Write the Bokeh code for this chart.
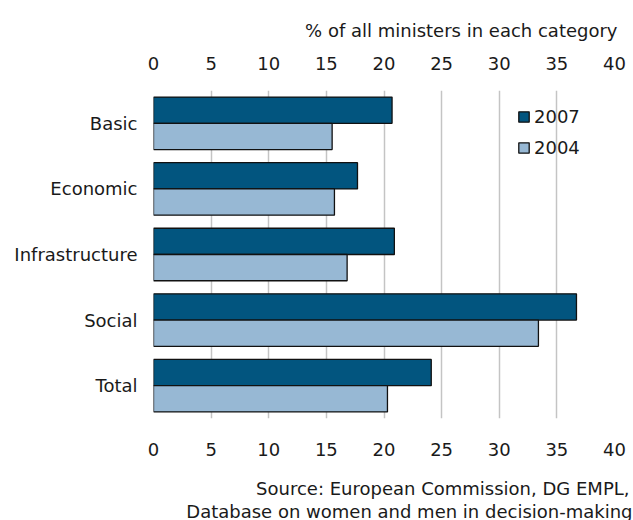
from bokeh.plotting import figure
from bokeh.models import (Range1d, FixedTicker, Legend, LegendItem, ColumnDataSource,
                          LinearAxis, Title)
from bokeh.embed import file_html
from bokeh.resources import INLINE

categories = ["Basic", "Economic", "Infrastructure", "Social", "Total"]
values_2007 = [20.7, 17.7, 20.9, 36.7, 24.1]
values_2004 = [15.5, 15.7, 16.8, 33.4, 20.3]
x_ticks = [0, 5, 10, 15, 20, 25, 30, 35, 40]
axis_title = "% of all ministers in each category"
source_lines = ["Source: European Commission, DG EMPL,",
                "Database on women and men in decision-making"]

FONT = "DejaVu Sans"
FS = "18px"
TXT = "#1a1a1a"
DARK = "#02557f"
LIGHT = "#97b8d4"

p = figure(width=633, height=520, output_backend="svg", toolbar_location=None,
           x_range=Range1d(0, 40), y_range=Range1d(5, 0),
           x_axis_location="below",
           min_border_left=153, min_border_right=19,
           min_border_top=90, min_border_bottom=102)
p.outline_line_color = None
p.background_fill_color = "white"
p.border_fill_color = "white"

centers = [i + 0.5 for i in range(len(categories))]
src07 = ColumnDataSource(dict(y=[c - 0.2 for c in centers], right=values_2007))
src04 = ColumnDataSource(dict(y=[c + 0.2 for c in centers], right=values_2004))
r07 = p.hbar(y="y", left=0, right="right", height=0.4, source=src07,
             fill_color=DARK, line_color="#111111", line_width=1.3)
r04 = p.hbar(y="y", left=0, right="right", height=0.4, source=src04,
             fill_color=LIGHT, line_color="#111111", line_width=1.3)

top = LinearAxis()
p.add_layout(top, "above")
p.add_layout(Title(text=axis_title, align="right", text_font=FONT, text_font_size=FS,
                   text_font_style="normal", text_color=TXT, standoff=26, offset=-3),
             "above")
for ax in p.xaxis:
    ax.ticker = FixedTicker(ticks=x_ticks)
    ax.axis_line_color = None
    ax.major_tick_line_color = None
    ax.minor_tick_line_color = None
    ax.major_label_text_font = FONT
    ax.major_label_text_font_size = FS
    ax.major_label_text_color = TXT
    ax.major_label_standoff = 18
top.major_label_standoff = 15

p.add_layout(Title(text=source_lines[0], align="right", text_font=FONT, text_font_size=FS,
                   text_font_style="normal", text_color=TXT,
                   standoff=34, offset=-15), "below")
p.add_layout(Title(text=source_lines[1], align="right", text_font=FONT, text_font_size=FS,
                   text_font_style="normal", text_color=TXT, vertical_align="top",
                   standoff=-30, offset=-18), "below")

p.yaxis.ticker = FixedTicker(ticks=centers)
p.yaxis.major_label_overrides = {c: cat for c, cat in zip(centers, categories)}
p.yaxis.axis_line_color = None
p.yaxis.major_tick_line_color = None
p.yaxis.minor_tick_line_color = None
p.yaxis.major_label_text_font = FONT
p.yaxis.major_label_text_font_size = FS
p.yaxis.major_label_text_color = TXT
p.yaxis.major_label_standoff = 10

p.ygrid.grid_line_color = None
p.xgrid.ticker = FixedTicker(ticks=x_ticks)
p.xgrid.grid_line_color = "#c4c4c4"
p.xgrid.grid_line_width = 1.5

legend = Legend(items=[LegendItem(label="2007", renderers=[r07]),
                       LegendItem(label="2004", renderers=[r04])],
                location=(364, 260), orientation="vertical")
legend.border_line_color = None
legend.background_fill_alpha = 0
legend.label_text_font = FONT
legend.label_text_font_size = FS
legend.label_text_color = TXT
legend.glyph_width = 13
legend.glyph_height = 13
legend.spacing = 10
legend.padding = 0
legend.margin = 0
legend.label_standoff = 4
p.add_layout(legend)

open("out.html", "w").write(file_html(p, INLINE))
